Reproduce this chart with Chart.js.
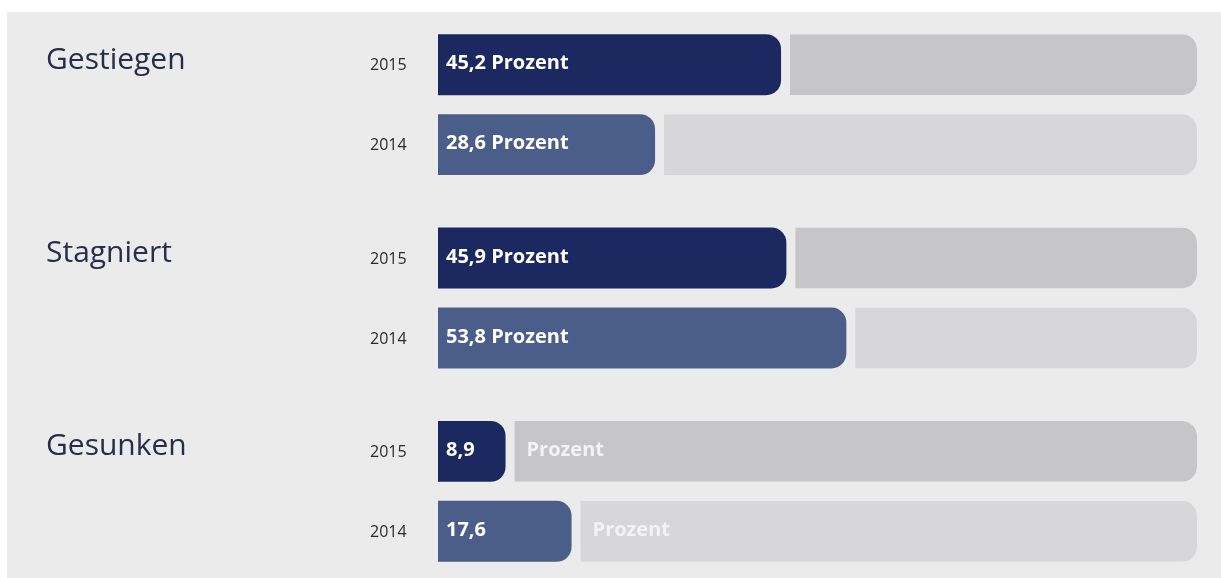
<!DOCTYPE html>
<html>
<head>
<meta charset="utf-8">
<script src="https://cdn.jsdelivr.net/npm/chart.js@4"></script>
<style>
  html, body { margin: 0; padding: 0; background: #ffffff; overflow: hidden; width: 1221px; height: 578px; }
  #panel { position: absolute; left: 7px; top: 12px; right: 0; bottom: 0; background: #ebebeb; }
  #wrap { position: absolute; left: 0; top: 0; width: 1221px; height: 600px; }
</style>
</head>
<body>
<div id="panel"></div>
<div id="wrap"><canvas id="chart"></canvas></div>
<script>
const categories = ["Gestiegen", "Stagniert", "Gesunken"];
const years = ["2015", "2014"];
const values2015 = [45.2, 45.9, 8.9];
const values2014 = [28.6, 53.8, 17.6];

const panelColor = "#ebebeb";
const rest = arr => arr.map(v => Math.round((100 - v) * 10) / 10);
const fmt = v => v.toFixed(1).replace(".", ",");

const barRadius = { topLeft: 0, bottomLeft: 0, topRight: 15, bottomRight: 15 };

// draws category names, year labels and the value texts
const labelPlugin = {
  id: "labels",
  afterDatasetsDraw(chart) {
    const ctx = chart.ctx;
    ctx.save();
    const pairs = [[0, 1], [2, 3]];
    pairs.forEach((p, yi) => {
      const valMeta = chart.getDatasetMeta(p[0]);
      const restMeta = chart.getDatasetMeta(p[1]);
      const vals = chart.data.datasets[p[0]].data;
      valMeta.data.forEach((bar, i) => {
        const y = bar.y;
        // year label
        ctx.font = "16px 'Open Sans'";
        ctx.fillStyle = "#2b2b2b";
        ctx.textAlign = "left";
        ctx.textBaseline = "middle";
        ctx.fillText(years[yi], 370, y + 1);
        // category label next to the 2015 bar
        if (yi === 0) {
          ctx.font = "30px 'Open Sans'";
          ctx.fillStyle = "#272d4c";
          ctx.textBaseline = "alphabetic";
          ctx.fillText(categories[i], 46, y + 4);
        }
        // value text
        ctx.font = "bold 20px 'Open Sans'";
        ctx.textBaseline = "middle";
        const left = bar.base;
        const width = bar.x - bar.base;
        ctx.fillStyle = "#ffffff";
        if (width > 150) {
          ctx.fillText(fmt(vals[i]) + " Prozent", left + 8, y - 1);
        } else {
          ctx.fillText(fmt(vals[i]), left + 8, y - 1);
          const rb = restMeta.data[i];
          ctx.fillStyle = "#f3f3f3";
          ctx.fillText("Prozent", rb.base + 21, y - 1);
        }
      });
    });
    ctx.restore();
  }
};

const ctx = document.getElementById("chart").getContext("2d");
new Chart(ctx, {
  type: "bar",
  data: {
    labels: categories,
    datasets: [
      {
        label: "2015",
        data: values2015,
        stack: "s2015",
        backgroundColor: "#1c2960",
        borderWidth: 0,
        borderRadius: barRadius,
        borderSkipped: false
      },
      {
        label: "2015 Rest",
        data: rest(values2015),
        stack: "s2015",
        backgroundColor: "#c6c6c8",
        borderColor: panelColor,
        borderWidth: { left: 9, top: 0, right: 0, bottom: 0 },
        borderRadius: barRadius,
        borderSkipped: false
      },
      {
        label: "2014",
        data: values2014,
        stack: "s2014",
        backgroundColor: "#4b5e89",
        borderWidth: 0,
        borderRadius: barRadius,
        borderSkipped: false
      },
      {
        label: "2014 Rest",
        data: rest(values2014),
        stack: "s2014",
        backgroundColor: "#d7d7d9",
        borderColor: panelColor,
        borderWidth: { left: 9, top: 0, right: 0, bottom: 0 },
        borderRadius: barRadius,
        borderSkipped: false
      }
    ]
  },
  options: {
    indexAxis: "y",
    responsive: true,
    maintainAspectRatio: false,
    animation: false,
    categoryPercentage: 0.827,
    barPercentage: 0.7625,
    layout: {
      padding: { left: 438, right: 24, top: 8, bottom: 12 }
    },
    scales: {
      x: { stacked: true, min: 0, max: 100, display: false },
      y: { stacked: true, display: false }
    },
    plugins: {
      legend: { display: false },
      tooltip: { enabled: false }
    }
  },
  plugins: [labelPlugin]
});
</script>
</body>
</html>
